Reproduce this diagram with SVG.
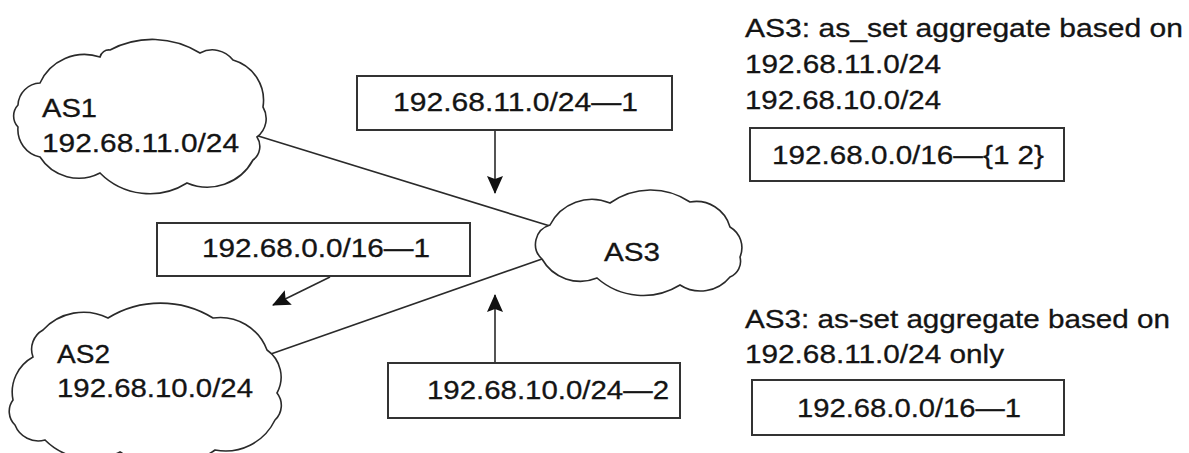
<svg xmlns="http://www.w3.org/2000/svg" width="1189" height="453" viewBox="0 0 1189 453">
<style>
  .cloud { fill: #ffffff; stroke: #2a2a2a; stroke-width: 1.6; stroke-linejoin: miter; }
  .box { fill: #ffffff; stroke: #333333; stroke-width: 2; }
  .conn { fill: none; stroke: #2a2a2a; stroke-width: 1.6; }
  .t { font-family: "Liberation Sans", Arial, Helvetica, sans-serif; font-size: 26px; fill: #141414; stroke: #141414; stroke-width: 0.3; }
</style>
<defs>
  <marker id="ah" markerUnits="userSpaceOnUse" markerWidth="20" markerHeight="18" refX="17" refY="8" orient="auto">
    <path d="M0,0 L18,8 L0,16 L3,8 Z" fill="#111111"/>
  </marker>
</defs>
<rect width="1189" height="453" fill="#ffffff"/>

<g id="connectors">
  <line class="conn" x1="255" y1="135" x2="550" y2="226"/>
  <line class="conn" x1="268" y1="355" x2="542" y2="259"/>
  <line class="conn" x1="495" y1="130" x2="495" y2="193" marker-end="url(#ah)"/>
  <line class="conn" x1="495" y1="363" x2="495" y2="295" marker-end="url(#ah)"/>
  <line class="conn" x1="330" y1="277" x2="273" y2="305" marker-end="url(#ah)"/>
</g>

<g id="as1">
  <path class="cloud" d="M18,105 A23,23 0 0 1 40,83 A49,49 0 0 1 100,57 A9,9 0 0 1 110,50 A90,90 0 0 1 200,53 A26,26 0 0 1 233,60 A42,42 0 0 1 263,107 A23,23 0 0 1 257,137 A17,17 0 0 1 253,160 A52,52 0 0 1 187,183 A70,70 0 0 1 100,173 A46,46 0 0 1 40,157 A28,28 0 0 1 18,127 A16,16 0 0 1 18,105 Z"/>
  <text class="t" x="42" y="117" textLength="55" lengthAdjust="spacingAndGlyphs">AS1</text>
  <text class="t" x="42" y="152" textLength="197" lengthAdjust="spacingAndGlyphs">192.68.11.0/24</text>
</g>

<g id="as2">
  <path class="cloud" d="M13,400 A40,40 0 0 1 33,357 A22,22 0 0 1 43,330 A55,55 0 0 1 108,318 A100,100 0 0 1 213,318 A50,50 0 0 1 267,350 A33,33 0 0 1 277,393 A20,20 0 0 1 275,420 A55,55 0 0 1 215,450 A85,85 0 0 1 120,452 A65,65 0 0 1 45,440 A25,25 0 0 1 15,425 A19,19 0 0 1 13,400 Z"/>
  <text class="t" x="57" y="363" textLength="53" lengthAdjust="spacingAndGlyphs">AS2</text>
  <text class="t" x="57" y="397" textLength="196" lengthAdjust="spacingAndGlyphs">192.68.10.0/24</text>
</g>

<g id="as3">
  <path class="cloud" d="M550,225 A47,47 0 0 1 610,203 A70,70 0 0 1 690,202 A35,35 0 0 1 730,227 A24,24 0 0 1 740,257 A17,17 0 0 1 730,277 A38,38 0 0 1 680,285 A70,70 0 0 1 597,278 A44,44 0 0 1 542,259 A20,20 0 0 1 550,225 Z"/>
  <text class="t" x="604" y="261" textLength="56" lengthAdjust="spacingAndGlyphs">AS3</text>
</g>

<g id="box-top">
  <rect class="box" x="357" y="76" width="315" height="54"/>
  <text class="t" x="393" y="111" textLength="245" lengthAdjust="spacingAndGlyphs">192.68.11.0/24—1</text>
</g>

<g id="box-left">
  <rect class="box" x="157" y="223" width="313" height="53"/>
  <text class="t" x="202" y="257" textLength="228" lengthAdjust="spacingAndGlyphs">192.68.0.0/16—1</text>
</g>

<g id="box-bottom">
  <rect class="box" x="388" y="363" width="292" height="55"/>
  <text class="t" x="427" y="399" textLength="242" lengthAdjust="spacingAndGlyphs">192.68.10.0/24—2</text>
</g>

<g id="note-top">
  <text class="t" x="745" y="37" textLength="438" lengthAdjust="spacingAndGlyphs">AS3: as_set aggregate based on</text>
  <text class="t" x="745" y="73" textLength="196" lengthAdjust="spacingAndGlyphs">192.68.11.0/24</text>
  <text class="t" x="745" y="109" textLength="196" lengthAdjust="spacingAndGlyphs">192.68.10.0/24</text>
  <rect class="box" x="750" y="128" width="314" height="53"/>
  <text class="t" x="772" y="164" textLength="272" lengthAdjust="spacingAndGlyphs">192.68.0.0/16—{1 2}</text>
</g>

<g id="note-bottom">
  <text class="t" x="745" y="328" textLength="425" lengthAdjust="spacingAndGlyphs">AS3: as-set aggregate based on</text>
  <text class="t" x="745" y="363" textLength="259" lengthAdjust="spacingAndGlyphs">192.68.11.0/24 only</text>
  <rect class="box" x="752" y="380" width="312" height="55"/>
  <text class="t" x="797" y="417" textLength="224" lengthAdjust="spacingAndGlyphs">192.68.0.0/16—1</text>
</g>
</svg>
